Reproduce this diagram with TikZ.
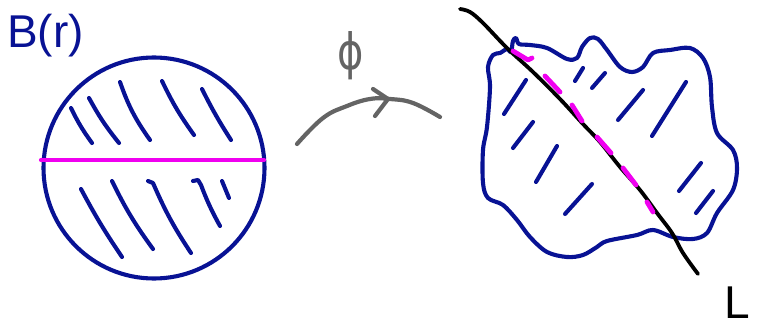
\documentclass[tikz,border=0pt]{standalone}
\usepackage{fontspec}
\setmainfont{Liberation Sans}
\newfontfamily\phifont{DejaVu Sans}
\definecolor{penblue}{RGB}{8,18,148}
\definecolor{penpink}{RGB}{240,0,240}
\definecolor{pengray}{RGB}{100,100,100}
\begin{document}
\begin{tikzpicture}[x=1pt,y=-1pt,line cap=round,line join=round,
  bluepen/.style={draw=penblue,line width=4.1pt},
  pinkpen/.style={draw=penpink,line width=4.8pt},
  blackpen/.style={draw=black,line width=3.8pt},
  graypen/.style={draw=pengray,line width=4.2pt}]
\useasboundingbox (0,0) rectangle (761,326);
% labels
\node[text=penblue,font=\fontsize{46}{46}\selectfont,inner sep=0pt,anchor=base west] (ball label) at (7,48) {B(r)};
\node[text=pengray,font=\phifont\fontsize{50}{50}\selectfont,inner sep=0pt] (phi) at (351,56) {\scalebox{0.8}[1]{ϕ}};
\node[text=black,font=\fontsize{46}{46}\selectfont,inner sep=0pt,anchor=base west] (L label) at (724,318) {L};
% ball
\node[bluepen,circle,minimum size=221pt,inner sep=0pt] (ball) at (154,168) {};
\draw[pinkpen,line width=4.2pt] (41,160) coordinate (d1) -- (264,160) coordinate (d2);
% hatches in ball
\draw[bluepen] (71,108) to[bend right=5] (92,143);
\draw[bluepen] (89,98) to[bend right=5] (119,143);
\draw[bluepen] (120,82) to[bend right=8] (150,140);
\draw[bluepen] (162,81) to[bend right=5] (194,135);
\draw[bluepen] (202,89) to[bend right=3] (231,140);
\draw[bluepen] (81,189) to[bend right=3] (122,257);
\draw[bluepen] (112,181) to[bend right=5] (153,249);
\draw[bluepen] (148,181) -- (153,183) to[bend right=5] (191,253);
\draw[bluepen] (193,181) -- (198,180) -- (201,185) to[bend right=4] (220,226);
\draw[bluepen] (222,181) -- (229,198);
% arrow
\draw[graypen] plot[smooth,tension=0.7] coordinates {(297,144) (323,118) (347,106) (370,99) (390,99) (413,103) (440,117)};
\draw[graypen] (373,89) -- (388,99) -- (375,116);
% blob
\draw[bluepen] plot[smooth cycle,tension=0.55] coordinates {
 (500,53) (507,49) (511,52) (513,41) (516,38) (519,44) (530,45) (547,48) (567,59) (577,58) (582,47) (590,38) (598,39) (607,50) (620,67) (632,72) (643,67) (653,53) (670,50) (690,48) (703,58) (710,77) (712,107) (717,133) (733,150) (737,168) (733,190) (717,213) (707,233) (693,239) (673,237) (653,230) (637,235) (607,241) (597,247) (583,255) (567,257) (547,252) (530,237) (517,220) (503,205) (488,198) (483,183) (483,150) (487,127) (490,87) (488,67) (493,55)};
% hatches in blob
\draw[bluepen] (526,80) -- (504,114);
\draw[bluepen] (583,68) -- (575,81);
\draw[bluepen] (605,73) -- (592,88);
\draw[bluepen] (643,90) -- (618,120);
\draw[bluepen] (686,82) -- (652,136);
\draw[bluepen] (533,122) -- (513,148);
\draw[bluepen] (557,146) -- (536,182);
\draw[bluepen] (592,184) -- (565,214);
\draw[bluepen] (701,163) -- (679,191);
\draw[bluepen] (713,191) -- (696,213);
% line L
\draw[blackpen] plot[smooth,tension=0.6] coordinates {(460,9) (470,12) (483,23) (507,48) (533,72) (560,99) (583,124) (600,142) (620,167) (640,190) (657,213) (672,233) (683,253) (698,274)};
% pink dashes
\draw[pinkpen] (513,51) -- (528,60) -- (532,58);
\draw[pinkpen] (545,76) -- (560,92);
\draw[pinkpen] (572,105) -- (582,121);
\draw[pinkpen] (597,137) -- (611,153);
\draw[pinkpen] (623,168) -- (636,185);
\draw[pinkpen] (647,202) -- (653,212);
\end{tikzpicture}
\end{document}
